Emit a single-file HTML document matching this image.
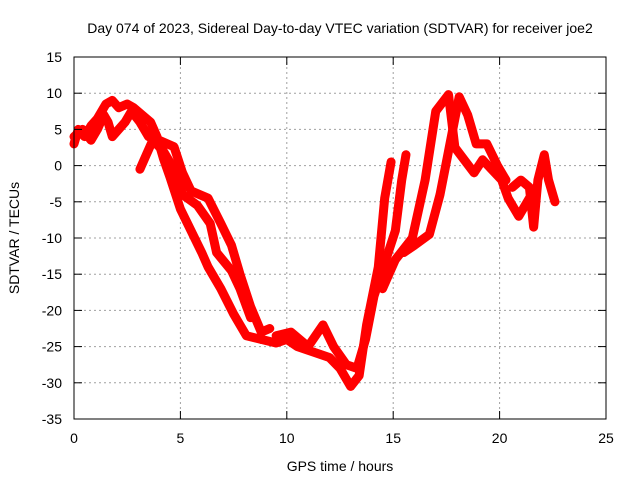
<!DOCTYPE html>
<html><head><meta charset="utf-8"><style>
body{margin:0;background:#fff;}
svg{display:block;font-family:"Liberation Sans",sans-serif;font-size:14px;}
</style></head><body>
<svg id="chart" width="640" height="480">
<rect width="640" height="480" fill="#fff"/>
<text x="340" y="33" text-anchor="middle">Day 074 of 2023, Sidereal Day-to-day VTEC variation (SDTVAR) for receiver joe2</text>
<text x="340" y="471" text-anchor="middle">GPS time / hours</text>
<text transform="translate(19,238) rotate(-90)" text-anchor="middle">SDTVAR / TECUs</text>
<g id="grid"></g>
<g id="series"></g>
<rect x="74" y="57" width="532" height="362" fill="none" stroke="#000"/>
<g id="axes"></g>
</svg>
<script>
const xTicks=[0,5,10,15,20,25];
const yTicks=[15,10,5,0,-5,-10,-15,-20,-25,-30,-35];
const track1=[[0,3],[0.2,5],[0.5,4],[0.8,5.5],[1.1,6.5],[1.5,8.5],[1.8,9],[2.1,8],[2.5,8.5],[2.8,8],[3.2,7],[3.6,6],[3.9,4],[4.2,1],[4.5,-1.5],[5,-6],[5.5,-9],[6,-12],[6.3,-14],[6.9,-17],[7.5,-20.5],[8.1,-23.5],[8.8,-24]];
const track2=[[0,4],[0.4,5],[0.8,3.5],[1.1,5],[1.4,7],[1.6,6],[1.8,4],[2.1,5],[2.4,6],[2.7,7.5],[3.1,6],[3.5,4],[4,3.5],[4.7,2.6],[5.1,-1],[5.5,-3.5],[6.3,-4.5],[6.9,-8],[7.4,-11],[7.8,-15],[8.3,-19.5],[8.8,-23],[9.2,-22.5]];
const track3=[[3.1,-0.5],[3.4,1.5],[3.7,3.5],[4.2,2],[4.8,-1],[5.1,-4],[5.8,-5.5],[6.4,-8],[6.7,-12],[7.4,-14.5],[7.8,-17],[8.3,-21]];
const track4=[[8.8,-24],[9.5,-24.5],[10,-24],[10.5,-25],[11,-25.5],[11.5,-26],[12,-26.5],[12.5,-28],[13,-30.5],[13.4,-29],[13.75,-22],[14.3,-14],[14.6,-4.5],[14.9,0.5]];
const track5=[[9.5,-23.5],[10.2,-23],[11,-25],[11.7,-22],[12.2,-25],[12.8,-27.5],[13.3,-28],[13.7,-24],[14.1,-18],[15.1,-9],[15.4,-2],[15.6,1.5]];
const track6=[[14.5,-17],[15.1,-13],[15.9,-10],[16.5,-2],[17,7.5],[17.6,9.8],[17.9,2.5],[18.8,-1],[19.2,0.8],[20.1,-2],[20.4,-4.5],[20.9,-7],[21.4,-4.5]];
const track7=[[15.5,-12],[16,-11],[16.7,-9.5],[17.2,-4],[17.6,2],[18.1,9.5],[18.5,7],[18.9,3],[19.4,3],[19.9,0],[20.3,-2]];
const track8=[[20.6,-3],[21,-2],[21.4,-3],[21.6,-8.5],[21.8,-2],[22.1,1.5],[22.3,-2],[22.6,-5]];
const tracks=[track1,track2,track3,track4,track5,track6,track7,track8];
const X=v=>74+v*(532/25);
const Y=v=>57+(15-v)*(362/50);
const NS="http://www.w3.org/2000/svg";
const grid=document.getElementById('grid'),axes=document.getElementById('axes'),ser=document.getElementById('series');
function mk(tag,at,par){const e=document.createElementNS(NS,tag);for(const k in at)e.setAttribute(k,at[k]);par.appendChild(e);return e;}
xTicks.forEach(t=>{
 const g=mk('line',{x1:X(t),x2:X(t),y1:57,y2:419,stroke:'#a0a0a0','stroke-dasharray':'2,3'},grid);
 
 
 mk('line',{x1:X(t),x2:X(t),y1:419,y2:411,stroke:'#000'},axes);
 mk('line',{x1:X(t),x2:X(t),y1:57,y2:65,stroke:'#000'},axes);
 const l=mk('text',{x:X(t),y:443,'text-anchor':'middle'},axes);l.textContent=t;
 
 
});
yTicks.forEach(t=>{
 const g=mk('line',{x1:74,x2:606,y1:Y(t),y2:Y(t),stroke:'#a0a0a0','stroke-dasharray':'2,3'},grid);
 
 
 mk('line',{x1:74,x2:82,y1:Y(t),y2:Y(t),stroke:'#000'},axes);
 mk('line',{x1:598,x2:606,y1:Y(t),y2:Y(t),stroke:'#000'},axes);
 const l=mk('text',{x:62,y:Y(t)+5,'text-anchor':'end'},axes);l.textContent=t;
 
 
});
tracks.forEach((tr,i)=>{
 const p=mk('polyline',{points:tr.map(d=>X(d[0])+','+Y(d[1])).join(' '),fill:'none',stroke:'#ff0000','stroke-width':9,'stroke-linejoin':'round','stroke-linecap':'round'},ser);
 
 
 tr.forEach(d=>{
  const c=mk('path',{d:`M${X(d[0])-4},${Y(d[1])}h8M${X(d[0])},${Y(d[1])-4}v8`,stroke:'#ff0000','stroke-width':1.2},ser);
  
  
 });
});
</script>
</body></html>
